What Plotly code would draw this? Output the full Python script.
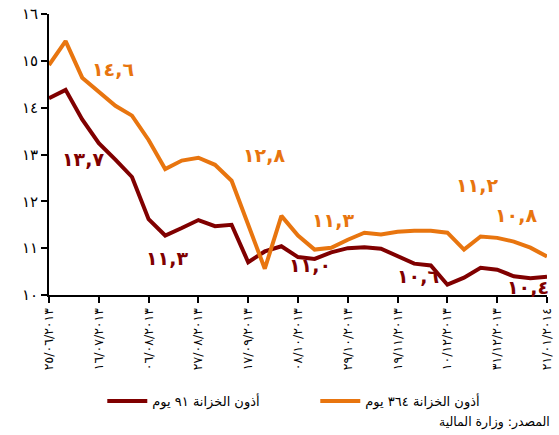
import plotly.graph_objects as go

# Weekly auction dates (categories)
dates = ["2013-06-25", "2013-07-02", "2013-07-09", "2013-07-16", "2013-07-23", "2013-07-30",
         "2013-08-06", "2013-08-13", "2013-08-20", "2013-08-27", "2013-09-03", "2013-09-10",
         "2013-09-17", "2013-09-24", "2013-10-01", "2013-10-08", "2013-10-15", "2013-10-22",
         "2013-10-29", "2013-11-05", "2013-11-12", "2013-11-19", "2013-11-26", "2013-12-03",
         "2013-12-10", "2013-12-17", "2013-12-24", "2013-12-31", "2014-01-07", "2014-01-14",
         "2014-01-21"]

# 91-day T-bill yields
tbill_91 = [14.20, 14.38, 13.75, 13.24, 12.89, 12.52, 11.62, 11.27, 11.43, 11.60, 11.47, 11.50,
            10.70, 10.93, 11.04, 10.81, 10.77, 10.91, 11.00, 11.02, 10.99, 10.82, 10.67, 10.63,
            10.22, 10.37, 10.58, 10.54, 10.40, 10.36, 10.39]

# 364-day T-bill yields
tbill_364 = [14.91, 15.42, 14.64, 14.34, 14.04, 13.83, 13.31, 12.69, 12.87, 12.93, 12.78, 12.44,
             11.50, 10.56, 11.69, 11.27, 10.97, 11.01, 11.18, 11.33, 11.29, 11.35, 11.37, 11.37,
             11.33, 10.97, 11.25, 11.22, 11.14, 11.01, 10.82]

tick_idx = [0, 3, 6, 9, 12, 15, 18, 21, 24, 27, 30]
tick_text = ["٢٥/٠٦/٢٠١٣", "١٦/٠٧/٢٠١٣", "٠٦/٠٨/٢٠١٣", "٢٧/٠٨/٢٠١٣", "١٧/٠٩/٢٠١٣",
             "٠٨/١٠/٢٠١٣", "٢٩/١٠/٢٠١٣", "١٩/١١/٢٠١٣", "١٠/١٢/٢٠١٣", "٣١/١٢/٢٠١٣",
             "٢١/٠١/٢٠١٤"]
y_ticks = [10, 11, 12, 13, 14, 15, 16]
y_text = ["١٠", "١١", "١٢", "١٣", "١٤", "١٥", "١٦"]

name_91 = "أذون الخزانة ٩١ يوم"
name_364 = "أذون الخزانة ٣٦٤ يوم"
source = "المصدر: وزارة المالية"

# data labels: (text, x index, y value)
labels_364 = [("١٤,٦", 3.86, 14.83), ("١٢,٨", 12.98, 12.99), ("١١,٣", 17.1, 11.61),
              ("١١,٢", 25.8, 12.35), ("١٠,٨", 28.16, 11.70)]
labels_91 = [("١٣,٧", 2.05, 12.91), ("١١,٣", 7.09, 10.78), ("١١,٠", 15.72, 10.65),
             ("١٠,٦", 22.23, 10.41), ("١٠,٤", 28.86, 10.18)]

C91 = "#800000"
C364 = "#E8750F"

x = list(range(len(dates)))

fig = go.Figure()
fig.add_trace(go.Scatter(x=x, y=tbill_91, mode="lines", name=name_91,
                         line=dict(color=C91, width=4), customdata=dates))
fig.add_trace(go.Scatter(x=x, y=tbill_364, mode="lines", name=name_364,
                         line=dict(color=C364, width=4), customdata=dates))

ann = []
for t, xi, yv in labels_364:
    ann.append(dict(x=xi, y=yv, xref="x", yref="y", text="<b>" + t + "</b>", showarrow=False,
                    font=dict(family="DejaVu Sans", size=19, color=C364)))
for t, xi, yv in labels_91:
    ann.append(dict(x=xi, y=yv, xref="x", yref="y", text="<b>" + t + "</b>", showarrow=False,
                    font=dict(family="DejaVu Sans", size=19, color=C91)))
ann.append(dict(x=1.01, y=-0.452, xref="paper", yref="paper", text=source, showarrow=False,
                xanchor="right", yanchor="middle",
                font=dict(family="DejaVu Sans", size=12.5, color="#000000")))

fig.update_layout(
    width=559, height=435,
    margin=dict(l=49, r=12, t=14, b=140, autoexpand=False),
    paper_bgcolor="white", plot_bgcolor="white",
    font=dict(family="DejaVu Sans", size=12, color="#000000"),
    showlegend=True,
    legend=dict(orientation="h", x=0.107, xanchor="left", y=-0.377, yanchor="middle",
                font=dict(size=13), itemwidth=40, entrywidth=158, entrywidthmode="pixels",
                bgcolor="rgba(0,0,0,0)"),
    annotations=ann,
    xaxis=dict(range=[0, 30], tickvals=tick_idx, ticktext=tick_text, tickangle=-90,
               automargin=False,
               showgrid=False, zeroline=False, showline=True, linecolor="black", linewidth=2,
               ticks="outside", ticklen=6, tickwidth=1.5, tickcolor="black",
               tickfont=dict(size=12.5), fixedrange=True),
    yaxis=dict(range=[10, 16], tickvals=y_ticks, ticktext=y_text, automargin=False,
               showgrid=False, zeroline=False, showline=True, linecolor="black", linewidth=2,
               ticks="outside", ticklen=6, tickwidth=1.5, tickcolor="black",
               tickfont=dict(size=15), fixedrange=True),
)

fig.write_html("out.html", config={"displayModeBar": False},
               post_script="document.body.style.margin='0';")
